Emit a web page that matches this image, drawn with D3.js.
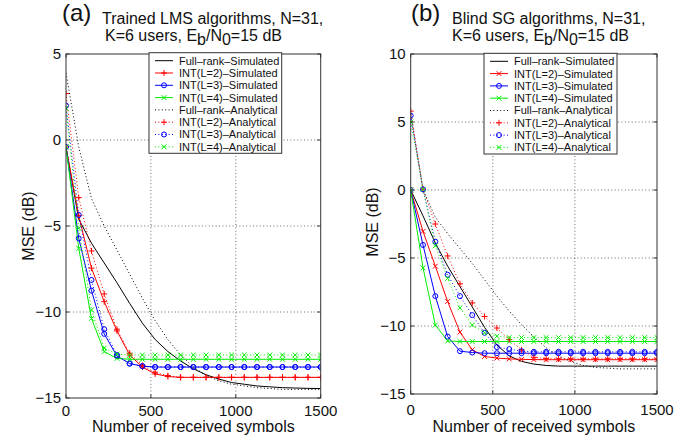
<!DOCTYPE html>
<html><head><meta charset="utf-8">
<script src="https://cdn.jsdelivr.net/npm/d3@7"></script>
<style>
body{margin:0;background:#fff}
svg{display:block;font-family:"Liberation Sans",Arial,Helvetica,sans-serif}
</style>
</head><body>
<svg id="c" width="695" height="442"></svg>
<script>
// ---------------- DATA ----------------
const symbols = [0,75,150,225,300,375,450,525,600,675,750,825,900,975,1050,1125,1200,1275,1350,1425,1500];
const xTicks = [0,500,1000,1500];
const yTicksA = [5,0,-5,-10,-15];
const yTicksB = [10,5,0,-5,-10,-15];
const seriesNames = ["Full–rank–Simulated","INT(L=2)–Simulated","INT(L=3)–Simulated","INT(L=4)–Simulated",
                     "Full–rank–Analytical","INT(L=2)–Analytical","INT(L=3)–Analytical","INT(L=4)–Analytical"];

// (a) Trained LMS
const aFullSim = [-0.4,-4.6,-6.0,-7.15,-8.3,-9.5,-10.65,-11.6,-12.3,-12.85,-13.3,-13.65,-13.9,-14.1,-14.2,-14.3,-14.35,-14.4,-14.42,-14.44,-14.45];
const aInt2Sim = [-0.4,-4.4,-7.45,-9.4,-11.1,-12.5,-13.2,-13.6,-13.75,-13.8,-13.8,-13.8,-13.8,-13.8,-13.8,-13.8,-13.8,-13.8,-13.8,-13.8,-13.8];
const aInt3Sim = [-0.4,-5.72,-8.76,-11.27,-12.56,-13.0,-13.15,-13.2,-13.2,-13.2,-13.2,-13.2,-13.2,-13.2,-13.2,-13.2,-13.2,-13.2,-13.2,-13.2,-13.2];
const aInt4Sim = [-0.4,-6.3,-10.37,-12.3,-12.7,-12.75,-12.75,-12.75,-12.75,-12.75,-12.75,-12.75,-12.75,-12.75,-12.75,-12.75,-12.75,-12.75,-12.75,-12.75,-12.75];
const aFullAna = [3.9,-0.4,-3.4,-5.0,-6.4,-7.8,-9.2,-10.5,-11.6,-12.5,-13.2,-13.7,-14.0,-14.2,-14.3,-14.4,-14.45,-14.5,-14.5,-14.5,-14.5];
const aInt2Ana = [2.7,-3.35,-6.45,-8.95,-11.0,-12.4,-13.1,-13.5,-13.7,-13.8,-13.8,-13.8,-13.8,-13.8,-13.8,-13.8,-13.8,-13.8,-13.8,-13.8,-13.8];
const aInt3Ana = [2.0,-4.36,-8.14,-11.0,-12.5,-13.0,-13.15,-13.2,-13.2,-13.2,-13.2,-13.2,-13.2,-13.2,-13.2,-13.2,-13.2,-13.2,-13.2,-13.2,-13.2];
const aInt4Ana = [1.85,-5.13,-9.88,-12.1,-12.45,-12.5,-12.5,-12.5,-12.5,-12.5,-12.5,-12.5,-12.5,-12.5,-12.5,-12.5,-12.5,-12.5,-12.5,-12.5,-12.5];

// (b) Blind SG
const bFullSim = [0,-1.9,-3.9,-5.6,-7.1,-8.6,-10.1,-11.4,-12.2,-12.6,-12.8,-12.9,-12.95,-12.95,-12.95,-12.95,-12.95,-12.95,-12.95,-12.95,-12.95];
const bInt2Sim = [0,-3.04,-5.6,-8.2,-10.45,-11.75,-12.24,-12.36,-12.42,-12.45,-12.47,-12.48,-12.48,-12.48,-12.48,-12.48,-12.48,-12.48,-12.48,-12.48,-12.48];
const bInt3Sim = [0,-4.04,-7.8,-10.78,-11.85,-11.95,-12.0,-12.0,-12.0,-12.0,-12.0,-12.0,-12.0,-12.0,-12.0,-12.0,-12.0,-12.0,-12.0,-12.0,-12.0];
const bInt4Sim = [0,-5.72,-9.93,-11.1,-11.14,-11.14,-11.14,-11.14,-11.14,-11.14,-11.14,-11.14,-11.14,-11.14,-11.14,-11.14,-11.14,-11.14,-11.14,-11.14,-11.14];
const bFullAna = [5.6,0.0,-2.0,-3.2,-4.3,-5.4,-6.6,-7.8,-8.9,-9.9,-10.8,-11.6,-12.2,-12.6,-12.9,-13.05,-13.1,-13.15,-13.15,-13.15,-13.15];
const bInt2Ana = [5.8,0.05,-2.5,-4.85,-6.9,-8.3,-9.3,-10.15,-11.0,-11.75,-12.3,-12.4,-12.42,-12.42,-12.42,-12.42,-12.42,-12.42,-12.42,-12.42,-12.42];
const bInt3Ana = [5.47,0.05,-3.8,-6.23,-7.8,-9.2,-10.5,-11.55,-11.7,-11.85,-11.9,-11.9,-11.9,-11.9,-11.9,-11.9,-11.9,-11.9,-11.9,-11.9,-11.9];
const bInt4Ana = [5.0,0.05,-4.1,-6.5,-8.66,-9.93,-10.5,-10.75,-10.85,-10.85,-10.85,-10.85,-10.85,-10.85,-10.85,-10.85,-10.85,-10.85,-10.85,-10.85,-10.85];

// ---------------- STYLE / LAYOUT ----------------
const colors = ["#000000","#ff0000","#0000ff","#00ee00","#000000","#ff0000","#0000ff","#00ee00"];
const dotted = [false,false,false,false,true,true,true,true];

const panels = [
  {id:"a", left:66, right:320.7, top:54, bottom:398, yDomain:[-15,5], yTicks:yTicksA,
   series:[aFullSim,aInt2Sim,aInt3Sim,aInt4Sim,aFullAna,aInt2Ana,aInt3Ana,aInt4Ana],
   markers:[null,"+","o","x",null,"+","o","x"],
   legend:{x:149, y:52.7, w:132.7, h:100.6},
   tag:"(a)", tagX:62, title1:"Trained LMS algorithms, N=31,", t1x:102, t2x:105,
   xLabBase:416, yLabX:34, yLabY:226},
  {id:"b", left:410.7, right:657, top:54, bottom:394, yDomain:[-15,10], yTicks:yTicksB,
   series:[bFullSim,bInt2Sim,bInt3Sim,bInt4Sim,bFullAna,bInt2Ana,bInt3Ana,bInt4Ana],
   markers:[null,"x","o","x",null,"+","o","x"],
   legend:{x:484, y:53.3, w:133, h:100.7},
   tag:"(b)", tagX:411, title1:"Blind SG algorithms, N=31,", t1x:452, t2x:452,
   xLabBase:415, yLabX:378, yLabY:222}
];

const svg = d3.select("#c");
const gridCol = "#444", boxCol = "#333";

function markerPath(type, s){
  if(type==="+") return `M${-s},0H${s}M0,${-s}V${s}`;
  if(type==="x"){const t=s*0.8; return `M${-t},${-t}L${t},${t}M${-t},${t}L${t},${-t}`;}
  return null;
}
function drawMarker(g, type, cx, cy, color){
  if(type==="o"){
    g.append("circle").attr("cx",cx).attr("cy",cy).attr("r",2.5)
      .attr("fill","none").attr("stroke",color).attr("stroke-width",1);
  } else {
    g.append("path").attr("transform",`translate(${cx},${cy})`).attr("d",markerPath(type,3))
      .attr("fill","none").attr("stroke",color).attr("stroke-width",1);
  }
}

panels.forEach(p=>{
  const x = d3.scaleLinear().domain([0,1500]).range([p.left,p.right]);
  const y = d3.scaleLinear().domain(p.yDomain).range([p.bottom,p.top]);
  const g = svg.append("g");

  const cid = "clip"+p.id;
  svg.append("clipPath").attr("id",cid).append("rect")
    .attr("x",p.left).attr("y",p.top).attr("width",p.right-p.left).attr("height",p.bottom-p.top);

  g.append("rect").attr("x",p.left).attr("y",p.top).attr("width",p.right-p.left).attr("height",p.bottom-p.top).attr("fill","#fff");

  // grid
  const grid = g.append("g").attr("stroke",gridCol).attr("stroke-width",0.8).attr("stroke-dasharray","1,2.4");
  xTicks.filter(t=>t>0 && t<1500).forEach(t=>{
    grid.append("line").attr("x1",x(t)).attr("x2",x(t)).attr("y1",p.top).attr("y2",p.bottom);
  });
  p.yTicks.filter(t=>t>p.yDomain[0] && t<p.yDomain[1]).forEach(t=>{
    grid.append("line").attr("y1",y(t)).attr("y2",y(t)).attr("x1",p.left).attr("x2",p.right);
  });

  // lines
  const plot = g.append("g").attr("clip-path",`url(#${cid})`);
  const line = d3.line().x((d,i)=>x(symbols[i])).y(d=>y(d));
  p.series.forEach((s,k)=>{
    plot.append("path").datum(s).attr("d",line).attr("fill","none")
      .attr("stroke",colors[k]).attr("stroke-width",1)
      .attr("stroke-dasharray",dotted[k]?"1,2.4":null);
  });
  p.series.forEach((s,k)=>{
    if(!p.markers[k]) return;
    s.forEach((v,i)=>drawMarker(plot,p.markers[k],x(symbols[i]),y(v),colors[k]));
  });

  // box
  g.append("rect").attr("x",p.left).attr("y",p.top).attr("width",p.right-p.left).attr("height",p.bottom-p.top)
    .attr("fill","none").attr("stroke",boxCol).attr("stroke-width",1);

  // ticks
  const tk = g.append("g").attr("stroke",boxCol).attr("stroke-width",1);
  xTicks.forEach(t=>{
    tk.append("line").attr("x1",x(t)).attr("x2",x(t)).attr("y1",p.bottom).attr("y2",p.bottom-3.5);
    tk.append("line").attr("x1",x(t)).attr("x2",x(t)).attr("y1",p.top).attr("y2",p.top+3.5);
  });
  p.yTicks.forEach(t=>{
    tk.append("line").attr("y1",y(t)).attr("y2",y(t)).attr("x1",p.left).attr("x2",p.left+3.5);
    tk.append("line").attr("y1",y(t)).attr("y2",y(t)).attr("x1",p.right).attr("x2",p.right-3.5);
  });

  // tick labels
  xTicks.forEach(t=>{
    g.append("text").attr("x",x(t)).attr("y",p.xLabBase).attr("text-anchor","middle")
      .attr("font-size",15).attr("fill","#111").text(t);
  });
  p.yTicks.forEach(t=>{
    g.append("text").attr("x",p.left-5).attr("y",y(t)).attr("dy","0.36em").attr("text-anchor","end")
      .attr("font-size",15).attr("fill","#111").text(t<0?"\u2212"+Math.abs(t):t);
  });

  // axis labels
  g.append("text").attr("x",(p.left+p.right)/2).attr("y",432).attr("text-anchor","middle")
    .attr("font-size",16).attr("fill","#111").text("Number of received symbols");
  g.append("text").attr("transform",`translate(${p.yLabX},${p.yLabY}) rotate(-90)`).attr("text-anchor","middle")
    .attr("font-size",16).attr("fill","#111").text("MSE (dB)");

  // titles
  g.append("text").attr("x",p.tagX).attr("y",21).attr("font-size",24).attr("fill","#111").text(p.tag);
  g.append("text").attr("x",p.t1x).attr("y",24).attr("font-size",16).attr("fill","#111").text(p.title1);
  const t2 = g.append("text").attr("x",p.t2x).attr("y",40.5).attr("font-size",16).attr("fill","#111");
  t2.append("tspan").text("K=6 users, E");
  t2.append("tspan").attr("dy",4).text("b");
  t2.append("tspan").attr("dy",-4).text("/N");
  t2.append("tspan").attr("dy",4).text("0");
  t2.append("tspan").attr("dy",-4).text("=15 dB");

  // legend
  const L = p.legend;
  const lg = g.append("g");
  lg.append("rect").attr("x",L.x).attr("y",L.y).attr("width",L.w).attr("height",L.h)
    .attr("fill","#fff").attr("stroke",boxCol).attr("stroke-width",1);
  seriesNames.forEach((name,k)=>{
    const ry = L.y + 8 + k*12.3;
    lg.append("line").attr("x1",L.x+6).attr("x2",L.x+24).attr("y1",ry).attr("y2",ry)
      .attr("stroke",colors[k]).attr("stroke-width",1).attr("stroke-dasharray",dotted[k]?"1,2.4":null);
    if(p.markers[k]) drawMarker(lg,p.markers[k],L.x+15,ry,colors[k]);
    lg.append("text").attr("x",L.x+30).attr("y",ry).attr("dy","0.36em").attr("font-size",11)
      .attr("fill","#111").text(name);
  });
});
</script>
</body></html>
